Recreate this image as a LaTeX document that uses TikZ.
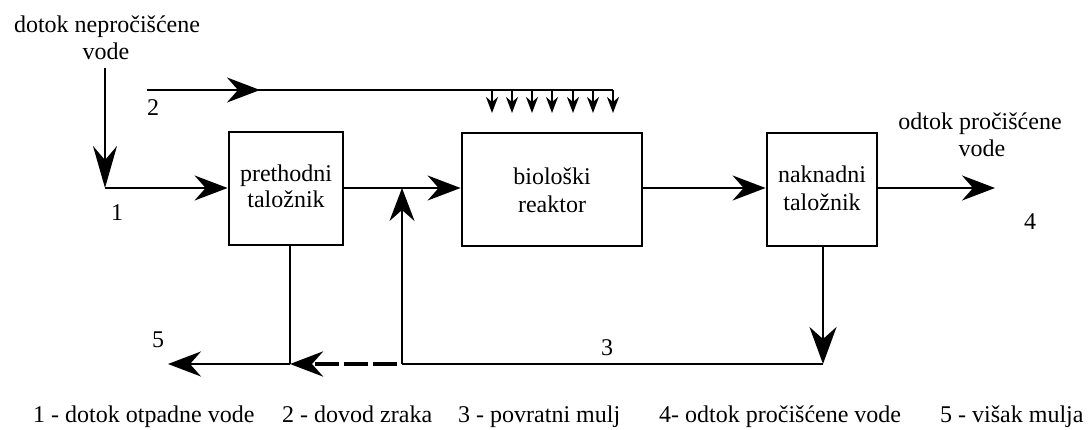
\documentclass[tikz,border=0pt]{standalone}
\usepackage{fontspec}
\setmainfont{Liberation Serif}
\newfontfamily\tmsfont{Liberation Serif}
\usetikzlibrary{arrows.meta}
\begin{document}
\begin{tikzpicture}[x=1pt,y=-1pt,
  ln/.style={line width=2.2pt},
  arr/.style={ln,-{Stealth[length=33pt,width=25pt,inset=11pt]}},
  longarr/.style={ln,-{Stealth[length=42pt,width=24pt,inset=14pt]}},
  downarr/.style={ln,-{Stealth[length=37pt,width=27pt,inset=12pt]}},
  sarr/.style={line width=1.8pt,-{Stealth[length=16pt,width=12pt,inset=5pt]}},
  dasharr/.style={line width=4.5pt,dash pattern=on 24pt off 5pt,-{Stealth[length=33pt,width=25pt,inset=11pt]}},
  box/.style={draw,line width=2.8pt,inner sep=0pt},
  txt/.style={font=\tmsfont\fontsize{24}{27}\selectfont,inner sep=0pt},
]
\useasboundingbox (0,0) rectangle (1091,430);
\fill[white] (0,0) rectangle (1091,430);

% boxes
\node[box,minimum width=114pt,minimum height=113pt] (b1) at (286,188.5) {};
\node[box,minimum width=180pt,minimum height=113pt] (b2) at (552,189.5) {};
\node[box,minimum width=110pt,minimum height=113pt] (b3) at (822,189.5) {};

% box texts
\node[txt,anchor=base] (t1a) at (286,182) {prethodni};
\node[txt,anchor=base] (t1b) at (286,208) {taložnik};
\node[txt,anchor=base] (t2a) at (552,185) {biološki};
\node[txt,anchor=base] (t2b) at (552,213) {reaktor};
\node[txt,anchor=base] (t3a) at (822,183) {naknadni};
\node[txt,anchor=base] (t3b) at (822,211) {taložnik};

% outer labels
\node[txt,anchor=base] (inA) at (107,33) {dotok nepročišćene};
\node[txt,anchor=base] (inB) at (106,60) {vode};
\node[txt,anchor=base] (outA) at (980,130) {odtok pročišćene};
\node[txt,anchor=base] (outB) at (982,157) {vode};

\node[txt] (n1) at (117,213) {1};
\node[txt] (n2) at (153,108) {2};
\node[txt] (n3) at (607,348) {3};
\node[txt] (n4) at (1030,222) {4};
\node[txt] (n5) at (158,340) {5};

% coordinates
\coordinate (inTop) at (105,68);
\coordinate (inJ) at (105,188);
\coordinate (j1) at (402,188);
\coordinate (out) at (995,188);
\coordinate (r3) at (823,364);
\coordinate (r2) at (402,364);
\coordinate (s1) at (290,364);
\coordinate (s0) at (168,364);
\coordinate (d0) at (397,364);
\coordinate (a0) at (147,90);
\coordinate (atip) at (260,90);
\coordinate (a1) at (613,90);

% connectors
\draw[longarr] (inTop) -- (inJ);
\draw[arr] (inJ) -- (inJ -| b1.west);
\draw[arr] (b1.east |- j1) -- (j1 -| b2.west);
\draw[arr] (b2.east |- j1) -- (j1 -| b3.west);
\draw[arr] (b3.east |- out) -- (out);
\draw[downarr] (r3 |- b3.south) -- (r3);
\draw[ln] (r3) -- (r2);
\draw[arr] (r2) -- (j1);
\draw[ln] (s1 |- b1.south) -- (s1);
\draw[arr] (s1) -- (s0);
\draw[dasharr] (d0) -- (s1);

% air supply
\draw[ln] (a0) -- (a1);
\draw[arr] (a0) -- (atip);
\foreach \x in {492,512,532,552,573,593,613}
  \draw[sarr] (\x,90) -- (\x,113);

% legend
\node[txt,anchor=base west] (l1) at (33,422) {1 - dotok otpadne vode};
\node[txt,anchor=base west] (l2) at (282,422) {2 - dovod zraka};
\node[txt,anchor=base west] (l3) at (458,422) {3 - povratni mulj};
\node[txt,anchor=base west] (l4) at (659,422) {4- odtok pročišćene vode};
\node[txt,anchor=base west] (l5) at (940,422) {5 - višak mulja};
\end{tikzpicture}
\end{document}
